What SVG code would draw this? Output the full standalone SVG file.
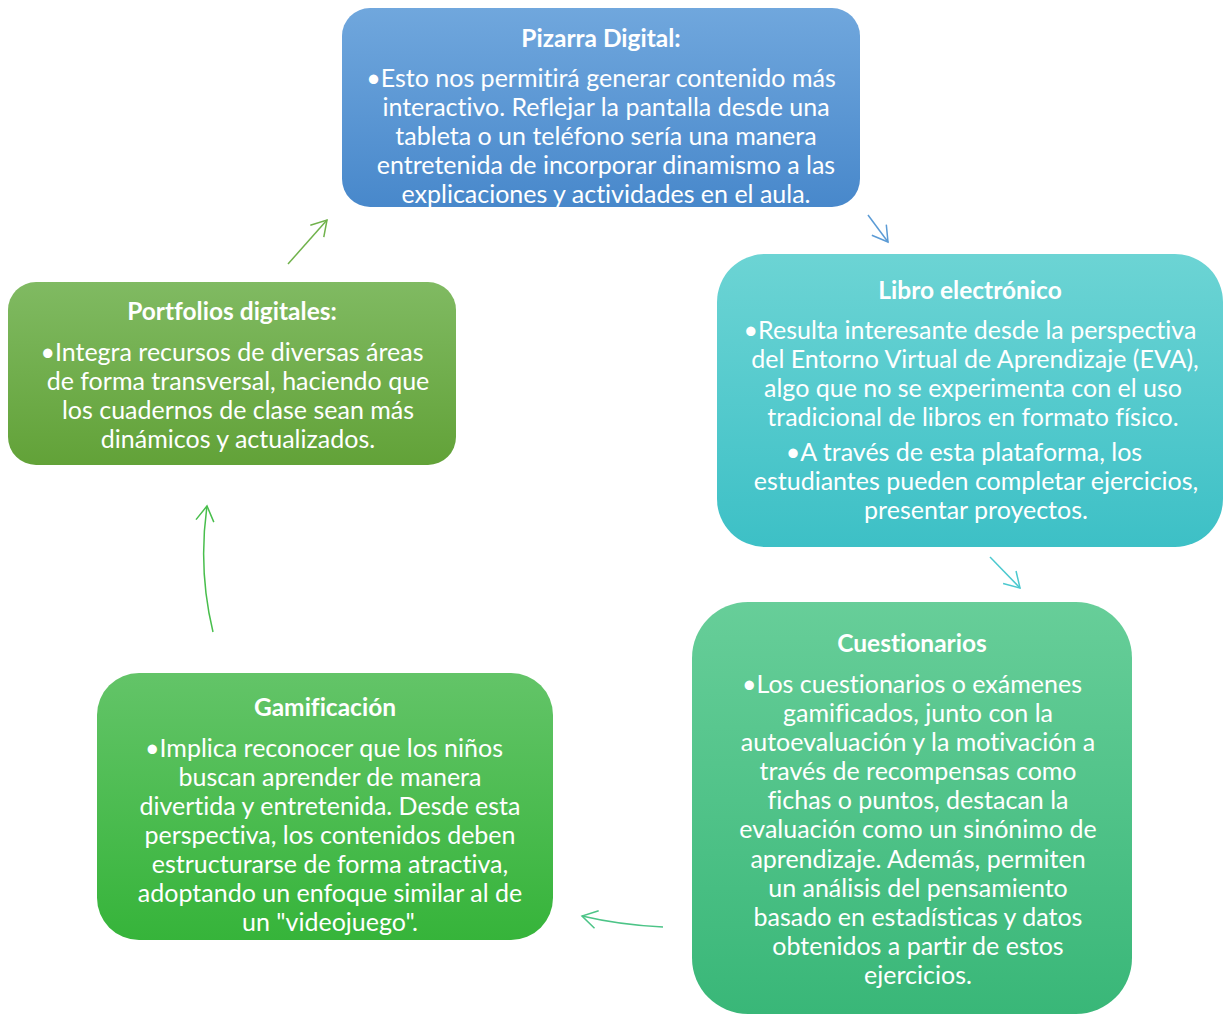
<svg xmlns="http://www.w3.org/2000/svg" width="1227" height="1014" viewBox="0 0 1227 1014">
<style>
.t{font-family:Lato,"Liberation Sans",sans-serif;fill:#fff;text-anchor:middle;font-variant-ligatures:none}
.h{font-size:24.5px;font-weight:bold}
.b{font-size:25px}
.c{fill:none;stroke-width:1.5}
</style>
<defs>
<linearGradient id="gBlue" x1="0" y1="0" x2="0" y2="1"><stop offset="0" stop-color="#70A7DD"/><stop offset="1" stop-color="#4888CB"/></linearGradient>
<linearGradient id="gTeal" x1="0" y1="0" x2="0" y2="1"><stop offset="0" stop-color="#6CD4D4"/><stop offset="1" stop-color="#3DC0C6"/></linearGradient>
<linearGradient id="gSea" x1="0" y1="0" x2="0" y2="1"><stop offset="0" stop-color="#67CE99"/><stop offset="1" stop-color="#39B778"/></linearGradient>
<linearGradient id="gGreen" x1="0" y1="0" x2="0" y2="1"><stop offset="0" stop-color="#63C468"/><stop offset="1" stop-color="#36B43A"/></linearGradient>
<linearGradient id="gOlive" x1="0" y1="0" x2="0" y2="1"><stop offset="0" stop-color="#80BA62"/><stop offset="1" stop-color="#62A238"/></linearGradient>
<clipPath id="clipP"><rect x="342" y="8" width="518" height="199" rx="28"/></clipPath>
<marker id="mBlue" viewBox="-16 -10 18 20" refX="0" refY="0" markerWidth="18" markerHeight="20" markerUnits="userSpaceOnUse" orient="auto"><path d="M-15,-9 L0,0 L-15,9" fill="none" stroke="#5B9BD5" stroke-width="1.5"/></marker>
<marker id="mTeal" viewBox="-16 -10 18 20" refX="0" refY="0" markerWidth="18" markerHeight="20" markerUnits="userSpaceOnUse" orient="auto"><path d="M-15,-9 L0,0 L-15,9" fill="none" stroke="#4CC9CF" stroke-width="1.5"/></marker>
<marker id="mSea" viewBox="-16 -10 18 20" refX="0" refY="0" markerWidth="18" markerHeight="20" markerUnits="userSpaceOnUse" orient="auto"><path d="M-15,-9 L0,0 L-15,9" fill="none" stroke="#4CC487" stroke-width="1.5"/></marker>
<marker id="mGreen" viewBox="-16 -10 18 20" refX="0" refY="0" markerWidth="18" markerHeight="20" markerUnits="userSpaceOnUse" orient="auto"><path d="M-15,-9 L0,0 L-15,9" fill="none" stroke="#48BE4C" stroke-width="1.5"/></marker>
<marker id="mOlive" viewBox="-16 -10 18 20" refX="0" refY="0" markerWidth="18" markerHeight="20" markerUnits="userSpaceOnUse" orient="auto"><path d="M-15,-9 L0,0 L-15,9" fill="none" stroke="#70B24B" stroke-width="1.5"/></marker>
</defs>
<rect width="1227" height="1014" fill="#fff"/>

<g id="connectors">
<path class="c" stroke="#5B9BD5" d="M868,215 L888,242" marker-end="url(#mBlue)"/>
<path class="c" stroke="#4CC9CF" d="M990,557 L1020,588" marker-end="url(#mTeal)"/>
<path class="c" stroke="#4CC487" d="M663,927 Q620,925 582,916" marker-end="url(#mSea)"/>
<path class="c" stroke="#48BE4C" d="M213,632 Q198,570 207,506" marker-end="url(#mGreen)"/>
<path class="c" stroke="#70B24B" d="M288,264 L327,220" marker-end="url(#mOlive)"/>
</g>

<g id="pizarra">
<rect x="342" y="8" width="518" height="199" rx="28" fill="url(#gBlue)"/>
<g clip-path="url(#clipP)">
<text class="t h" x="601" y="47">Pizarra Digital:</text>
<text class="t b" x="601" y="87">•Esto nos permitirá generar contenido más</text>
<text class="t b" x="606" y="116">interactivo. Reflejar la pantalla desde una</text>
<text class="t b" x="606" y="145">tableta o un teléfono sería una manera</text>
<text class="t b" x="606" y="174">entretenida de incorporar dinamismo a las</text>
<text class="t b" x="606" y="203">explicaciones y actividades en el aula.</text>
</g>
</g>

<g id="libro">
<rect x="717" y="254" width="506" height="293" rx="48" fill="url(#gTeal)"/>
<text class="t h" x="970" y="299">Libro electrónico</text>
<text class="t b" x="970" y="339">•Resulta interesante desde la perspectiva</text>
<text class="t b" x="975" y="368">del Entorno Virtual de Aprendizaje (EVA),</text>
<text class="t b" x="973" y="397">algo que no se experimenta con el uso</text>
<text class="t b" x="973" y="426">tradicional de libros en formato físico.</text>
<text class="t b" x="964" y="461">•A través de esta plataforma, los</text>
<text class="t b" x="976" y="490">estudiantes pueden completar ejercicios,</text>
<text class="t b" x="976" y="519">presentar proyectos.</text>
</g>

<g id="cuestionarios">
<rect x="692" y="602" width="440" height="412" rx="56" fill="url(#gSea)"/>
<text class="t h" x="912" y="652">Cuestionarios</text>
<text class="t b" x="912" y="693">•Los cuestionarios o exámenes</text>
<text class="t b" x="918" y="722">gamificados, junto con la</text>
<text class="t b" x="918" y="751">autoevaluación y la motivación a</text>
<text class="t b" x="918" y="780">través de recompensas como</text>
<text class="t b" x="918" y="809">fichas o puntos, destacan la</text>
<text class="t b" x="918" y="838">evaluación como un sinónimo de</text>
<text class="t b" x="918" y="868">aprendizaje. Además, permiten</text>
<text class="t b" x="918" y="897">un análisis del pensamiento</text>
<text class="t b" x="918" y="926">basado en estadísticas y datos</text>
<text class="t b" x="918" y="955">obtenidos a partir de estos</text>
<text class="t b" x="918" y="984">ejercicios.</text>
</g>

<g id="gamificacion">
<rect x="97" y="673" width="456" height="267" rx="42" fill="url(#gGreen)"/>
<text class="t h" x="325" y="716">Gamificación</text>
<text class="t b" x="324" y="757">•Implica reconocer que los niños</text>
<text class="t b" x="330" y="786">buscan aprender de manera</text>
<text class="t b" x="330" y="815">divertida y entretenida. Desde esta</text>
<text class="t b" x="330" y="844">perspectiva, los contenidos deben</text>
<text class="t b" x="330" y="873">estructurarse de forma atractiva,</text>
<text class="t b" x="330" y="902">adoptando un enfoque similar al de</text>
<text class="t b" x="330" y="931">un "videojuego".</text>
</g>

<g id="portfolios">
<rect x="8" y="282" width="448" height="183" rx="28" fill="url(#gOlive)"/>
<text class="t h" x="232" y="320">Portfolios digitales:</text>
<text class="t b" x="232" y="361">•Integra recursos de diversas áreas</text>
<text class="t b" x="238" y="390">de forma transversal, haciendo que</text>
<text class="t b" x="238" y="419">los cuadernos de clase sean más</text>
<text class="t b" x="238" y="448">dinámicos y actualizados.</text>
</g>
</svg>
